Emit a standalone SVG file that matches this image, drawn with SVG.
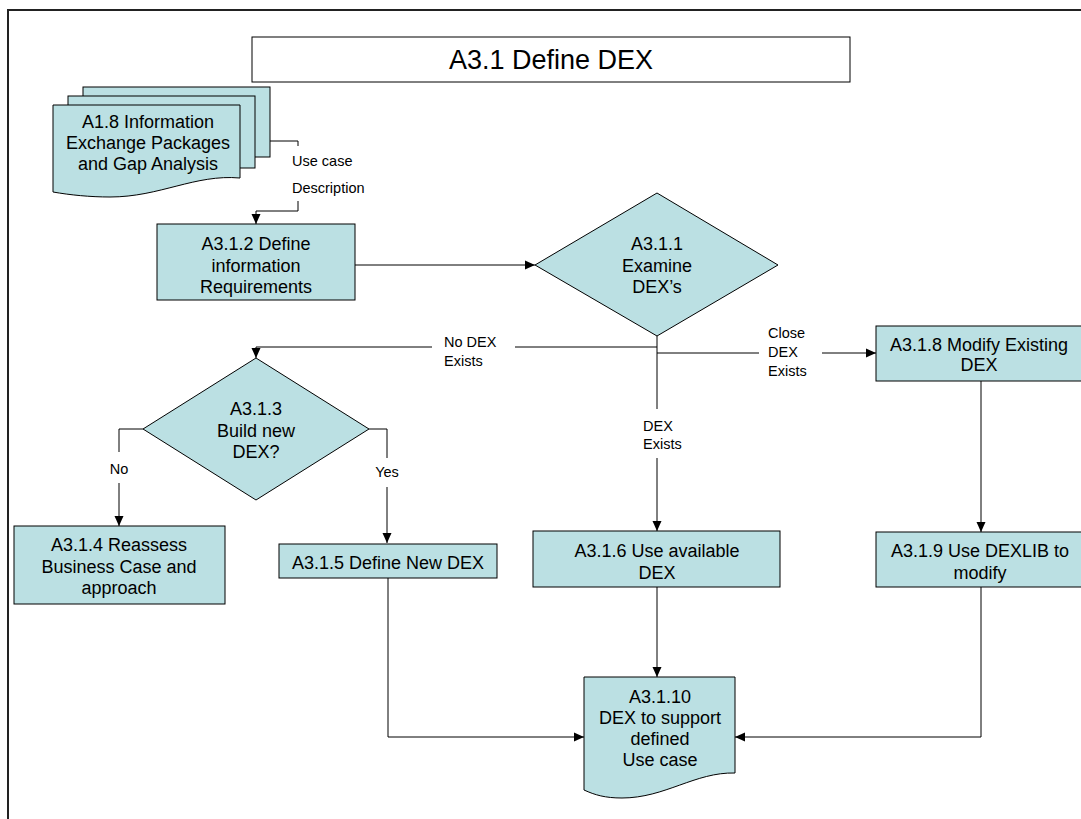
<svg xmlns="http://www.w3.org/2000/svg" width="1081" height="819" viewBox="0 0 1081 819">
<defs>
<style>
.n{fill:#bbe0e3;stroke:#000;stroke-width:1}
.t{font-family:"Liberation Sans",Arial,sans-serif;font-size:18px;fill:#000;text-anchor:middle}
.l{font-family:"Liberation Sans",Arial,sans-serif;font-size:14.5px;fill:#000}
.c{fill:none;stroke:#000;stroke-width:1}
</style>
<marker id="ah" markerWidth="10" markerHeight="10" refX="10" refY="5" orient="auto" markerUnits="userSpaceOnUse">
<path d="M0,0.5 L10,5 L0,9.5 Z" fill="#000"/>
</marker>
</defs>
<rect width="1081" height="819" fill="#fff"/>
<g id="frame">
<path d="M8,819 V10 H1081" fill="none" stroke="#222" stroke-width="2"/>
</g>
<g id="title">
<rect x="252" y="37" width="598" height="45" fill="#fff" stroke="#000" stroke-width="1"/>
<text x="551" y="69" class="t" style="font-size:27px">A3.1 Define DEX</text>
</g>
<g id="connectors">
<path class="c" d="M270,141 H298 V146"/>
<path class="c" d="M298,201 V211 H256 V224" marker-end="url(#ah)"/>
<path class="c" d="M355,265 H535" marker-end="url(#ah)"/>
<path class="c" d="M657,336 V409"/>
<path class="c" d="M657,458 V531" marker-end="url(#ah)"/>
<path class="c" d="M657,347 H515"/>
<path class="c" d="M432,347 H256 V358" marker-end="url(#ah)"/>
<path class="c" d="M657,353 H759"/>
<path class="c" d="M822,353 H876" marker-end="url(#ah)"/>
<path class="c" d="M143,429 H119 V452"/>
<path class="c" d="M119,483 V526" marker-end="url(#ah)"/>
<path class="c" d="M369,429 H387 V458"/>
<path class="c" d="M387,487 V543" marker-end="url(#ah)"/>
<path class="c" d="M981,381 V532" marker-end="url(#ah)"/>
<path class="c" d="M657,587 V677" marker-end="url(#ah)"/>
<path class="c" d="M388,578 V737 H584" marker-end="url(#ah)"/>
<path class="c" d="M981,587 V737 H735" marker-end="url(#ah)"/>
<text class="l" x="292" y="166">Use case</text>
<text class="l" x="292" y="193">Description</text>
<text class="l" x="444" y="347">No DEX</text>
<text class="l" x="444" y="366">Exists</text>
<text class="l" x="768" y="338">Close</text>
<text class="l" x="768" y="357">DEX</text>
<text class="l" x="768" y="376">Exists</text>
<text class="l" x="643" y="431">DEX</text>
<text class="l" x="643" y="449">Exists</text>
<text class="l" x="119" y="474" text-anchor="middle">No</text>
<text class="l" x="387" y="477" text-anchor="middle">Yes</text>
</g>
<g id="A1.8">
<rect class="n" x="83" y="87" width="187" height="70"/>
<rect class="n" x="68" y="96" width="187" height="72"/>
<path class="n" d="M53,105 H240 V178 C195,174 160,197 110,197 C90,197 70,195 53,192 Z"/>
<text class="t" x="148" y="128">A1.8 Information</text>
<text class="t" x="148" y="149">Exchange Packages</text>
<text class="t" x="148" y="170">and Gap Analysis</text>
</g>
<g id="A3.1.2">
<rect class="n" x="157" y="224" width="198" height="76"/>
<text class="t" x="256" y="249.5">A3.1.2 Define</text>
<text class="t" x="256" y="271.5">information</text>
<text class="t" x="256" y="293">Requirements</text>
</g>
<g id="A3.1.1">
<path class="n" d="M535,265 L657,193 L778,265 L657,336 Z"/>
<text class="t" x="657" y="249.5">A3.1.1</text>
<text class="t" x="657" y="271.5">Examine</text>
<text class="t" x="657" y="293">DEX’s</text>
</g>
<g id="A3.1.3">
<path class="n" d="M143,429 L256,358 L369,429 L256,500 Z"/>
<text class="t" x="256" y="414.5">A3.1.3</text>
<text class="t" x="256" y="436.5">Build new</text>
<text class="t" x="256" y="457.5">DEX?</text>
</g>
<g id="A3.1.4">
<rect class="n" x="14" y="526" width="211" height="78"/>
<text class="t" x="119" y="550.5">A3.1.4 Reassess</text>
<text class="t" x="119" y="572.5">Business Case and</text>
<text class="t" x="119" y="593.5">approach</text>
</g>
<g id="A3.1.5">
<rect class="n" x="279" y="544" width="218" height="34"/>
<text class="t" x="388" y="568.5">A3.1.5 Define New DEX</text>
</g>
<g id="A3.1.6">
<rect class="n" x="533" y="531" width="247" height="56"/>
<text class="t" x="657" y="556.5">A3.1.6 Use available</text>
<text class="t" x="657" y="578.5">DEX</text>
</g>
<g id="A3.1.8">
<rect class="n" x="876" y="326" width="208" height="55"/>
<text class="t" x="979" y="351">A3.1.8 Modify Existing</text>
<text class="t" x="979" y="371">DEX</text>
</g>
<g id="A3.1.9">
<rect class="n" x="876" y="532" width="208" height="55"/>
<text class="t" x="980" y="556.5">A3.1.9 Use DEXLIB to</text>
<text class="t" x="980" y="578.5">modify</text>
</g>
<g id="A3.1.10">
<path class="n" d="M584,677 H735 V773 C695,772 665,798 622,798 C605,798 595,795 584,790 Z"/>
<text class="t" x="660" y="703">A3.1.10</text>
<text class="t" x="660" y="724">DEX to support</text>
<text class="t" x="660" y="745">defined</text>
<text class="t" x="660" y="766">Use case</text>
</g>
</svg>
